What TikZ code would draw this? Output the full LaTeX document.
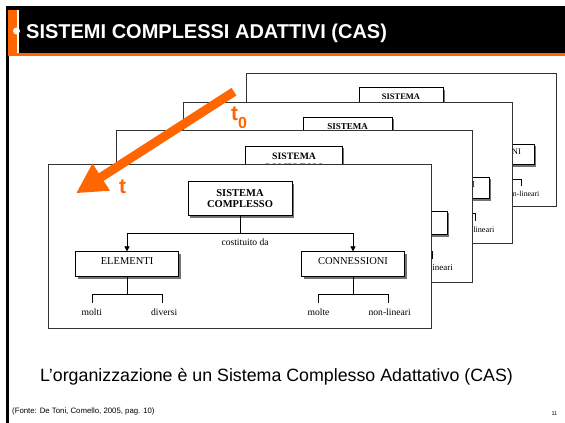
\documentclass[tikz,border=0pt]{standalone}
\usepackage{fontspec}
\setmainfont{Liberation Serif}
\newfontfamily\arialfont{Liberation Sans}
\usetikzlibrary{arrows.meta,shadows}
\definecolor{casorange}{RGB}{255,102,0}
\tikzset{
  casframe/.style={draw=black!80, line width=0.7pt, fill=white, anchor=north west,
    minimum width=383pt, minimum height=164pt, inner sep=0pt},
  sysbox/.style={draw, line width=0.6pt, fill=white, align=center,
    font=\bfseries\fontsize{10.5}{11.7}\selectfont,
    minimum width=104pt, minimum height=34pt, inner sep=0pt,
    drop shadow={shadow xshift=2pt, shadow yshift=-2pt, fill=black!55, opacity=1}},
  partbox/.style={sysbox, font=\fontsize{10.5}{12}\selectfont,
    minimum width=103pt, minimum height=25pt, text height=7pt, text depth=7pt},
  smalltxt/.style={font=\fontsize{9.6}{11}\selectfont, inner sep=0pt, anchor=base},
  link/.style={line width=0.6pt},
  linkarrow/.style={link, -{Triangle[length=5pt,width=5pt]}},
  timearrow/.style={casorange, line width=9pt, -{Triangle[length=30pt,width=30pt]}},
  tlabel/.style={casorange, font=\arialfont\bfseries\fontsize{21}{21}\selectfont,
    inner sep=0pt, anchor=base west},
}
\begin{document}
\begin{tikzpicture}[x=1pt,y=-1pt]
\useasboundingbox (0,0) rectangle (565,423);

% slide header
\fill[black] (6,6) rectangle (565,53);
\fill[black] (6,6) rectangle (8.5,423);
\fill[casorange] (7.5,10) rectangle (17,55.5);
\fill[casorange] (7.5,53) rectangle (565,55.5);
\fill[white] (17,10) rectangle (18.5,53);
\fill[white] (16.5,31) circle (3.5pt);
\node (title) [anchor=base west, text=white, inner sep=0pt,
  font=\arialfont\bfseries\fontsize{20}{20}\selectfont] at (26,38.3)
  {SISTEMI COMPLESSI ADATTIVI (CAS)};

% the four frames, back to front
% each one is the front frame scaled down
\foreach \i/\px/\py/\s in {4/245.7/73.3/0.81, 3/183/101.7/0.859,
                           2/116/130/0.929, 1/48.3/164/1}{
\begin{scope}[shift={(\px,\py)}, scale=\s, every node/.append style={transform shape}]
\node (frm\i) [casframe] at (0,0) {};

\node (sys\i) [sysbox] at (191.7,34.7) {SISTEMA\\COMPLESSO};
\node (ele\i) [partbox] at (78.7,100.2) {ELEMENTI};
\node (con\i) [partbox] at (304.7,100.2) {CONNESSIONI};
\node (cost\i) [smalltxt] at (196.8,81) {costituito da};

\node (molti\i) [smalltxt] at (43.5,151.7) {molti};
\node (diversi\i) [smalltxt] at (115.9,151.7) {diversi};
\node (molte\i) [smalltxt] at (270.2,151.7) {molte};
\node (nonlin\i) [smalltxt] at (341.4,151.7) {non-lineari};

% split under the system box
\coordinate (split\i) at (191.7,69.3);
\draw[linkarrow] (sys\i) -- (split\i) -| (ele\i);
\draw[linkarrow] (split\i) -| (con\i);

% brackets under the two parts
\coordinate (eb\i) at (78.7,130.3);
\coordinate (ml\i) at (44.3,139.3);
\coordinate (dv\i) at (113.7,139.3);
\draw[link] (ele\i) -- (eb\i);
\draw[link] (ml\i) |- (eb\i) -| (dv\i);

\coordinate (cb\i) at (304.7,130.3);
\coordinate (mt\i) at (270.3,139.3);
\coordinate (nl\i) at (340.3,139.3);
\draw[link] (con\i) -- (cb\i);
\draw[link] (mt\i) |- (cb\i) -| (nl\i);
\end{scope}
}

% time arrow
\coordinate (past) at (234,91.7);
\coordinate (now) at (76,193.3);
\draw[timearrow] (past) -- (now);
\node (tnow) [tlabel] at (119,193.3) {t};
\node (tpast) [tlabel] at (231,120) {t\raisebox{-8.3pt}{\fontsize{16}{16}\selectfont 0}};

% caption and source
\node (caption) [anchor=base, inner sep=0pt,
  font=\arialfont\fontsize{17.8}{18}\selectfont] at (276.5,381)
  {L’organizzazione è un Sistema Complesso Adattativo (CAS)};
\node (source) [anchor=base west, inner sep=0pt,
  font=\arialfont\fontsize{7.8}{8}\selectfont] at (12,413)
  {(Fonte: De Toni, Comello, 2005, pag. 10)};
\node (pagenum) [anchor=base east, inner sep=0pt,
  font=\arialfont\fontsize{5.5}{6}\selectfont] at (557.5,415) {11};

\end{tikzpicture}
\end{document}
